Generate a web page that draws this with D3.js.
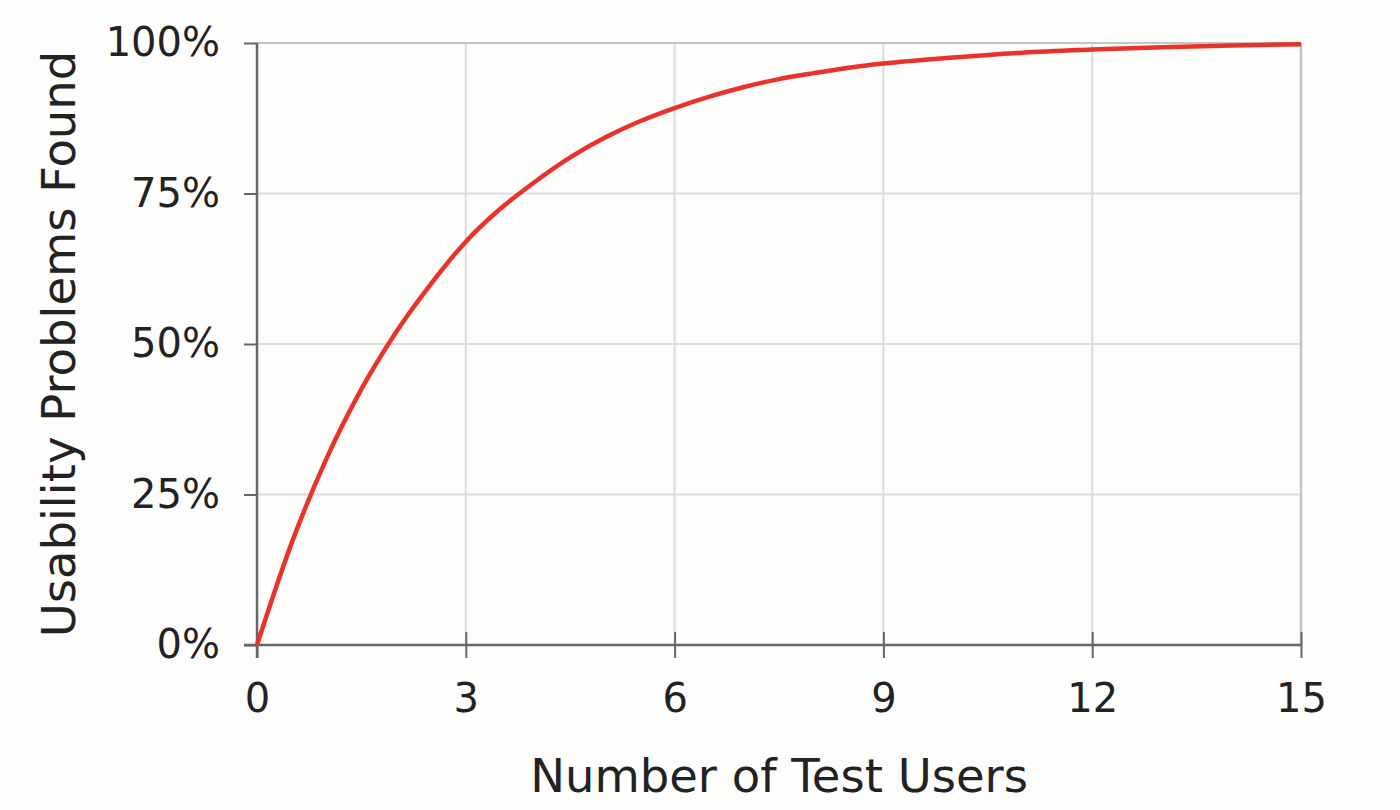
<!DOCTYPE html>
<html>
<head>
<meta charset="utf-8">
<script src="https://cdn.jsdelivr.net/npm/d3@7"></script>
<style>
  html, body { margin: 0; padding: 0; background: #fdfdfc; }
  svg { display: block; }
  text { font-family: "DejaVu Sans", Verdana, sans-serif; fill: #222; }
</style>
</head>
<body>
<svg id="chart" width="1400" height="810"></svg>
<script>
// Data
const users = [0, 0.5, 1, 1.5, 2, 2.5, 3, 3.5, 4, 4.5, 5, 5.5, 6, 6.5, 7, 7.5, 8, 8.5, 9, 10, 11, 12, 13, 14, 15];
const problemsFound = [0, 17, 31, 42.5, 52, 60, 67, 72.5, 77, 81, 84.3, 87, 89.2, 91.1, 92.7, 94, 95, 95.9, 96.6, 97.6, 98.4, 98.9, 99.3, 99.6, 99.8];
const xTicks = [0, 3, 6, 9, 12, 15];
const yTicks = [0, 25, 50, 75, 100];
const xTitle = "Number of Test Users";
const yTitle = "Usability Problems Found";

(function () {
const svg = d3.select("#chart");
const pL = 257, pR = 1301, pT = 43, pB = 645;

const x = d3.scaleLinear().domain([0, 15]).range([pL, pR]);
const y = d3.scaleLinear().domain([0, 100]).range([pB, pT]);

// gridlines
const grid = svg.append("g");
grid.selectAll("line.h").data(yTicks.filter(d => d > 0 && d < 100)).join("line")
  .attr("x1", pL).attr("x2", pR)
  .attr("y1", d => y(d)).attr("y2", d => y(d))
  .attr("stroke", "#dcdcdc").attr("stroke-width", 2);
grid.selectAll("line.v").data(xTicks.filter(d => d > 0 && d < 15)).join("line")
  .attr("x1", d => x(d)).attr("x2", d => x(d))
  .attr("y1", pT).attr("y2", pB)
  .attr("stroke", "#dcdcdc").attr("stroke-width", 2);
// top & right border
grid.append("line").attr("x1", pL).attr("x2", pR).attr("y1", y(100)).attr("y2", y(100))
  .attr("stroke", "#c4c4c4").attr("stroke-width", 2);
grid.append("line").attr("x1", x(15)).attr("x2", x(15)).attr("y1", pT).attr("y2", pB)
  .attr("stroke", "#c4c4c4").attr("stroke-width", 2.5);

// axes
const xAxis = d3.axisBottom(x).tickValues(xTicks).tickSize(13).tickPadding(26).tickFormat(d3.format("d"));
const yAxis = d3.axisLeft(y).tickValues(yTicks).tickSize(13).tickPadding(24).tickFormat(d => d + "%");

const gx = svg.append("g").attr("transform", `translate(0,${pB})`).call(xAxis);
gx.select(".domain").attr("stroke", "#666").attr("stroke-width", 2.5).attr("d", `M${pL - 13},0H${pR}`);
gx.selectAll(".tick line").attr("stroke", "#666").attr("stroke-width", 2).attr("y1", -13);
gx.selectAll(".tick text").attr("font-size", 40).attr("fill", "#222")
  .style("font-family", "'DejaVu Sans', Verdana, sans-serif");

const gy = svg.append("g").attr("transform", `translate(${pL},0)`).call(yAxis);
gy.select(".domain").attr("stroke", "#666").attr("stroke-width", 2.5).attr("d", `M0,${pT}V${pB + 13}`);
gy.selectAll(".tick line").attr("stroke", "#666").attr("stroke-width", 2);
gy.selectAll(".tick text").attr("font-size", 40).attr("fill", "#222")
  .style("font-family", "'DejaVu Sans', Verdana, sans-serif");

// curve
const line = d3.line().x((d, i) => x(users[i])).y(d => y(d)).curve(d3.curveMonotoneX);
svg.append("path").datum(problemsFound)
  .attr("fill", "none").attr("stroke", "#e8322a").attr("stroke-width", 4.5)
  .attr("stroke-linejoin", "round").attr("d", line);

// titles
svg.append("text").attr("x", (pL + pR) / 2).attr("y", 792)
  .attr("text-anchor", "middle").attr("font-size", 46.5).text(xTitle);
svg.append("text").attr("transform", `translate(75,${(pT + pB) / 2}) rotate(-90)`)
  .attr("text-anchor", "middle").attr("font-size", 46.5).text(yTitle);
})();
</script>
</body>
</html>
